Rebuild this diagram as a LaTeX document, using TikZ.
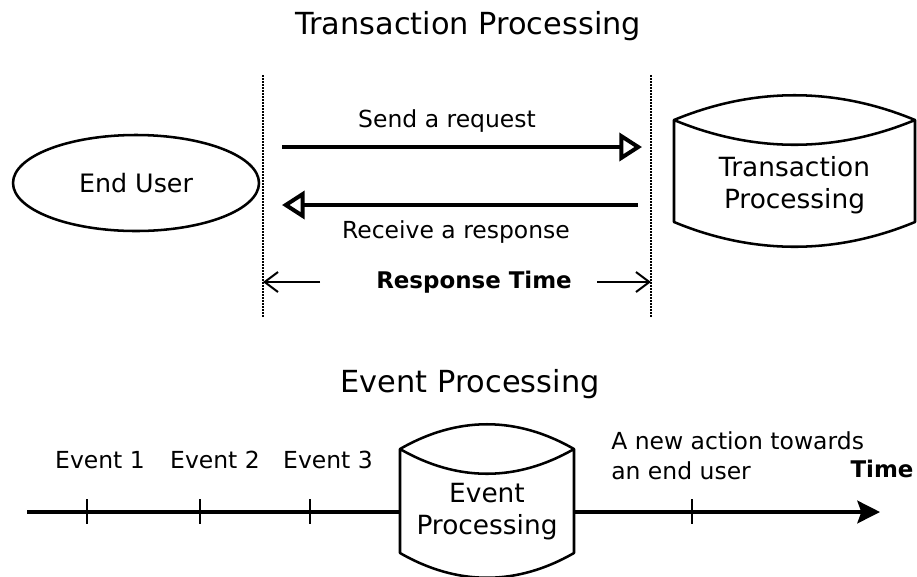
\documentclass[tikz,border=0pt]{standalone}
\usepackage{fontspec}
\setmainfont{DejaVu Sans}
\usepackage{tikz}
\usetikzlibrary{shapes.geometric, arrows.meta, positioning, calc}

% drum outline round a node: node, half width, top, bottom, bulge
\newcommand{\drumshape}[5]{%
  \path ($(#1.center)+(-#2,#3)$) coordinate (#1nw) ($(#1.center)+(#2,#3)$) coordinate (#1ne)
        ($(#1.center)+(-#2,#4)$) coordinate (#1sw) ($(#1.center)+(#2,#4)$) coordinate (#1se);
  \draw[drumline] (#1nw) .. controls +(0.66*#2,-#5) and +(-0.66*#2,-#5) .. (#1ne)
     .. controls +(-0.66*#2,#5) and +(0.66*#2,#5) .. (#1nw) -- (#1sw)
     .. controls +(0.66*#2,#5) and +(-0.66*#2,#5) .. (#1se) -- (#1ne);
}

\begin{document}
\begin{tikzpicture}[
    x=0.75pt, y=-0.75pt,
    heading/.style={font=\fontsize{22.8pt}{27pt}\selectfont, inner sep=0pt, anchor=base},
    lbl/.style={font=\fontsize{17.6pt}{22.5pt}\selectfont, inner sep=0pt, anchor=base},
    blbl/.style={font=\bfseries\fontsize{17.2pt}{20pt}\selectfont, inner sep=0pt, anchor=base},
    actor/.style={ellipse, draw=black, line width=1.9pt, minimum width=184.5pt, minimum height=72pt, inner sep=0pt, font=\fontsize{19pt}{23pt}\selectfont},
    drum/.style={rectangle, inner sep=0pt, align=center, font=\fontsize{19.8pt}{24pt}\selectfont},
    drumline/.style={line width=1.9pt, line join=round},
    sync/.style={line width=2pt, dash pattern=on 1.5pt off 0.75pt},
    msg/.style={line width=3pt, -{Triangle[open, length=17pt, width=21pt]}},
    span/.style={line width=1.5pt, -{Straight Barb[length=10pt, width=15pt]}},
    timeline/.style={line width=2.6pt},
    tickmark/.style={line width=1.9pt}
]
\useasboundingbox (0,0) rectangle (917,576);

% Top part: transaction processing
\node[heading] (tptitle) at (468,34) {Transaction Processing};
\node[actor] (user) at (136,183) {End User};
\node[drum] (tp) at (794.5,185) {Transaction\\Processing};
\drumshape{tp}{120.5}{-65}{37}{33}

% Dotted borders of the response time
\coordinate (reqtop) at (263,75);
\coordinate (reqbot) at (263,318);
\coordinate (restop) at (651,75);
\coordinate (resbot) at (651,318);
\draw[sync] (reqtop) -- (reqbot);
\draw[sync] (restop) -- (resbot);

% Request and response
\coordinate (sendfrom) at (282,147);
\coordinate (sendto) at (642,147);
\coordinate (recvfrom) at (638,205);
\coordinate (recvto) at (282,205);
\draw[msg] (sendfrom) -- (sendto);
\draw[msg] (recvfrom) -- (recvto);
\node[lbl] (sendlbl) at (447,127) {Send a request};
\node[lbl] (recvlbl) at (456,238) {Receive a response};

% Response time span
\node[blbl] (rtlbl) at (474,288) {Response Time};
\coordinate (spanl) at (320,282);
\coordinate (spanr) at (597,282);
\draw[span] (spanl) -- (spanl -| reqtop);
\draw[span] (spanr) -- (spanr -| restop);

% Bottom part: event processing
\node[heading] (evtitle) at (470,392) {Event Processing};
\node[drum, minimum width=130.5pt, minimum height=40pt] (ep) at (487,512) {Event\\Processing};
\drumshape{ep}{87}{-63}{41}{33}

% Time line
\coordinate (tlstart) at (27,512);
\coordinate (tlend) at (880,512);
\draw[timeline] (tlstart) -- (ep);
\draw[timeline, -{Stealth[length=17pt, width=17pt, inset=3pt]}] (ep) -- (tlend);
\foreach \x in {87,200,310,692}
  \draw[tickmark] (\x,499) -- (\x,524);

\foreach \x/\n in {100/1,215/2,328/3}
  \node[lbl] (ev\n) at (\x,468) {Event \n};
\node[lbl, anchor=north west, align=left] (action) at (611,431) {A new action towards\\an end user};
\node[blbl] (timelbl) at (882,477) {Time};

\end{tikzpicture}
\end{document}
